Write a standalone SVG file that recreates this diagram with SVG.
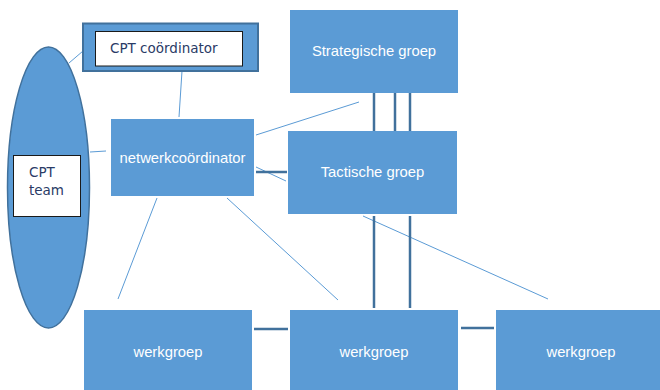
<svg xmlns="http://www.w3.org/2000/svg" width="660" height="390" viewBox="0 0 660 390">
<style>
.box{fill:#5B9BD5}
.wt{fill:#FFFFFF;font-family:"Liberation Sans",Arial,sans-serif;font-size:14.8px;text-anchor:middle}
.dt{fill:#2A3B66;font-family:"DejaVu Sans","Liberation Sans",sans-serif;font-size:13.5px}
.thin{stroke:#5B9BD5;stroke-width:1;fill:none}
.thick{stroke:#41719C;stroke-width:2.5;fill:none}
</style>
<rect width="660" height="390" fill="#FFFFFF"/>
<g id="connectors">
<line class="thin" x1="69" y1="63" x2="83" y2="51"/>
<line class="thin" x1="182" y1="71" x2="179" y2="117"/>
<line class="thin" x1="90" y1="152" x2="106" y2="151"/>
<line class="thin" x1="256" y1="135" x2="359" y2="102"/>
<line class="thin" x1="256" y1="167" x2="286" y2="181"/>
<line class="thick" x1="256" y1="172" x2="287" y2="172"/>
<line class="thin" x1="157" y1="198" x2="118" y2="299"/>
<line class="thin" x1="227" y1="198" x2="338" y2="300"/>
<line class="thin" x1="363" y1="216" x2="548" y2="299"/>
<line class="thick" x1="374" y1="93" x2="374" y2="131"/>
<line class="thick" x1="395" y1="93" x2="395" y2="131"/>
<line class="thick" x1="410" y1="93" x2="410" y2="131"/>
<line class="thick" x1="374" y1="216" x2="374" y2="308"/>
<line class="thick" x1="410" y1="216" x2="410" y2="308"/>
<line class="thick" x1="254" y1="329" x2="288" y2="329"/>
<line class="thick" x1="461" y1="328" x2="494" y2="328"/>
</g>
<g id="cpt-team">
<ellipse cx="48.5" cy="187.5" rx="41" ry="140.5" fill="#5B9BD5" stroke="#41719C" stroke-width="1.5"/>
<rect x="13.5" y="155.5" width="67" height="61" fill="#FFFFFF" stroke="#1A1A1A" stroke-width="1"/>
<text class="dt" x="29" y="177">CPT</text>
<text class="dt" x="29" y="195">team</text>
</g>
<g id="cpt-coordinator">
<rect x="83" y="23.5" width="175" height="47.5" fill="#5B9BD5" stroke="#41719C" stroke-width="2"/>
<rect x="95.5" y="31.5" width="147" height="34.5" fill="#FFFFFF" stroke="#1A1A1A" stroke-width="1"/>
<text class="dt" x="110" y="53">CPT coördinator</text>
</g>
<g id="netwerkcoordinator">
<rect class="box" x="111" y="119" width="143" height="77"/>
<text class="wt" x="182.5" y="163">netwerkcoördinator</text>
</g>
<g id="strategische-groep">
<rect class="box" x="290" y="10" width="168" height="83"/>
<text class="wt" x="374" y="56">Strategische groep</text>
</g>
<g id="tactische-groep">
<rect class="box" x="288" y="131" width="169" height="83"/>
<text class="wt" x="372.5" y="177">Tactische groep</text>
</g>
<g id="werkgroep-1">
<rect class="box" x="84" y="310" width="168" height="80"/>
<text class="wt" x="168" y="357">werkgroep</text>
</g>
<g id="werkgroep-2">
<rect class="box" x="290" y="310" width="168" height="80"/>
<text class="wt" x="374" y="357">werkgroep</text>
</g>
<g id="werkgroep-3">
<rect class="box" x="496" y="310" width="164" height="80"/>
<text class="wt" x="581" y="357">werkgroep</text>
</g>
</svg>
